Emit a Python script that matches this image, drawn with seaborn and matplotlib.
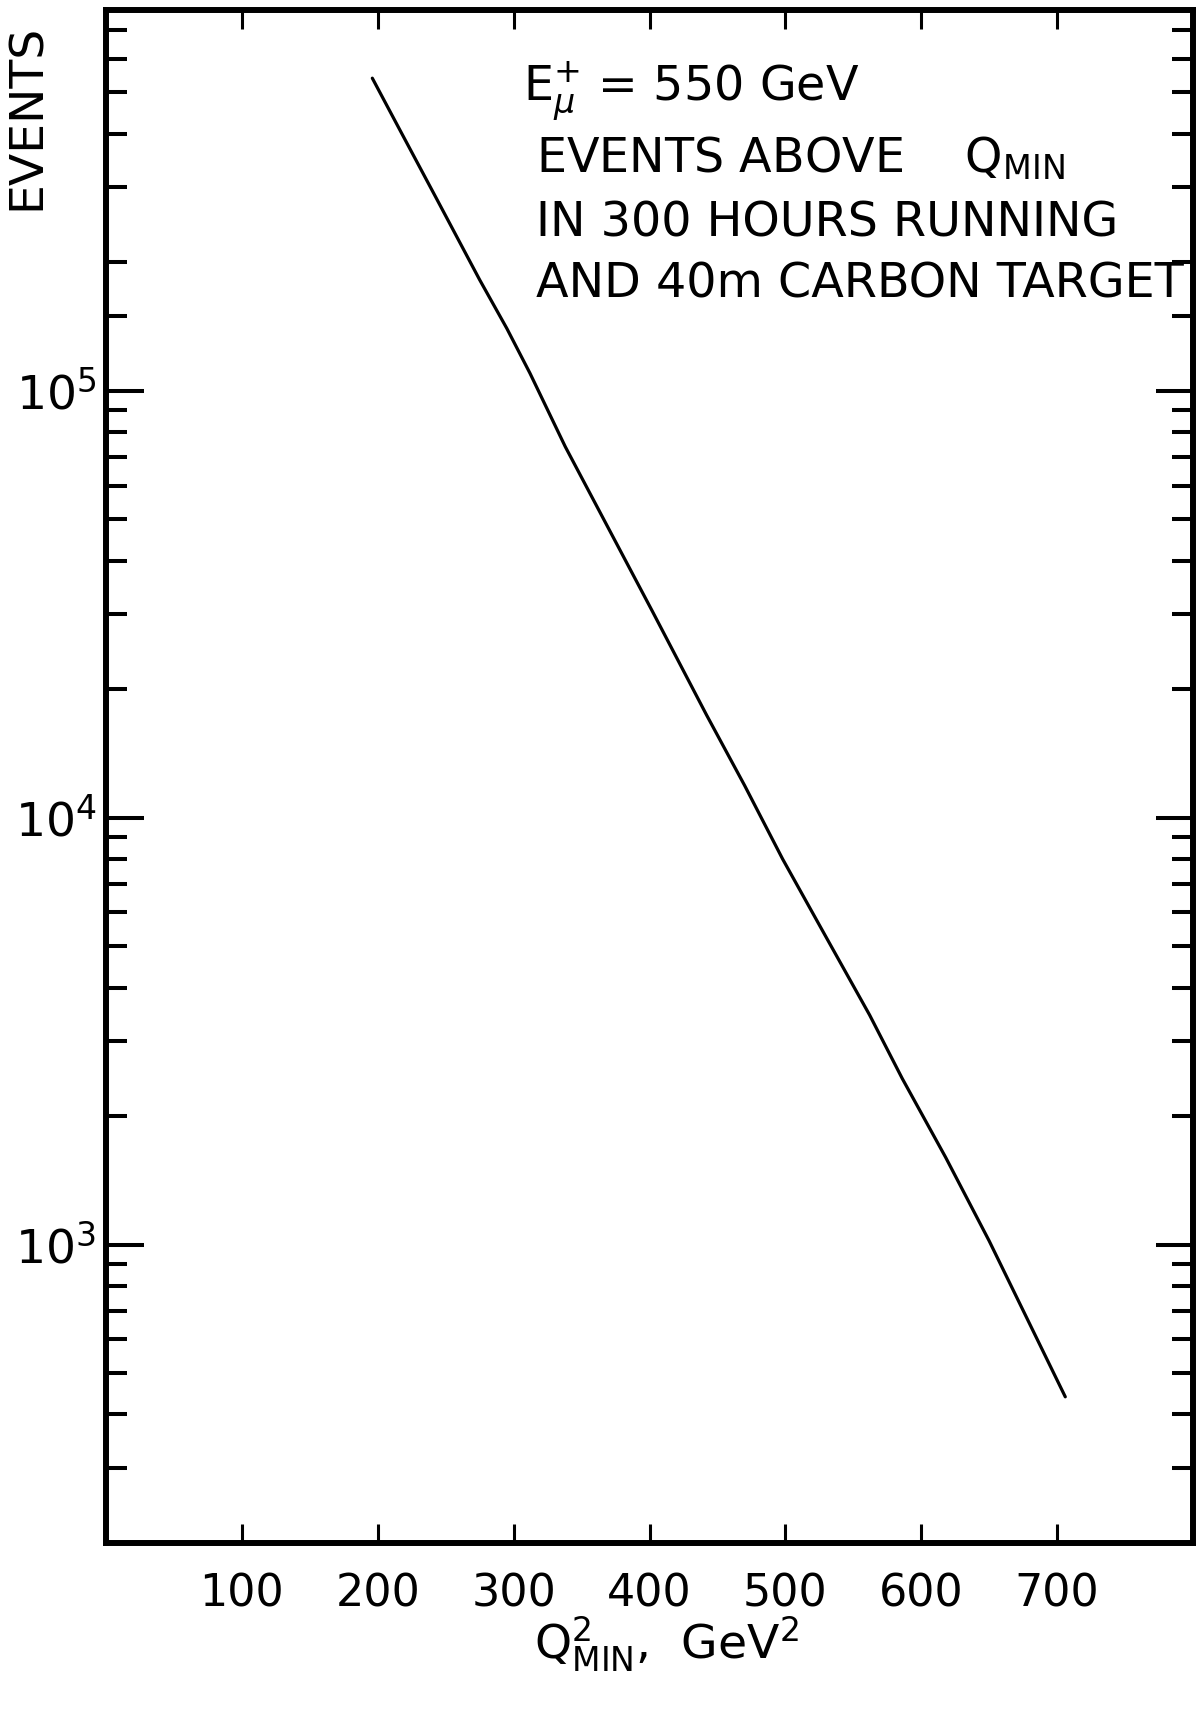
import matplotlib
matplotlib.use("Agg")
import matplotlib.pyplot as plt
import seaborn as sns
import pandas as pd

# Integrated event count above Q^2_min
q2_min = [196, 216, 243, 275, 295, 312, 338, 402, 442, 470, 498,
          530, 562, 586, 618, 650, 706]
events = [5.4e5, 4.1e5, 2.83e5, 1.82e5, 1.40e5, 1.10e5, 7.4e4,
          3.05e4, 1.74e4, 1.19e4, 8.0e3, 5.25e3, 3.45e3, 2.45e3, 1.60e3,
          1.02e3, 4.4e2]

x_ticks = [100, 200, 300, 400, 500, 600, 700]
x_tick_labels = ["100", "200", "300", "400", "500", "600", "700"]
y_major = [1e3, 1e4, 1e5]
y_major_labels = [r"$\mathregular{10^{3}}$", r"$\mathregular{10^{4}}$",
                  r"$\mathregular{10^{5}}$"]
y_minor = [300, 400, 500, 600, 700, 800, 900,
           2e3, 3e3, 4e3, 5e3, 6e3, 7e3, 8e3, 9e3,
           2e4, 3e4, 4e4, 5e4, 6e4, 7e4, 8e4, 9e4,
           1.5e5, 2e5, 3e5, 4e5, 5e5, 6e5, 7e5]

annotation = [
    r"E$^{+}_{\mu}$ = 550 GeV",
    r"EVENTS ABOVE    Q$_{\mathregular{MIN}}$",
    "IN 300 HOURS RUNNING",
    "AND 40m CARBON TARGET",
]

sns.set_theme(style="ticks")
plt.rcParams["font.family"] = ["DejaVu Sans"]
plt.rcParams["mathtext.fontset"] = "dejavusans"
for key in ("text.color", "axes.labelcolor", "xtick.color", "ytick.color",
            "axes.edgecolor"):
    plt.rcParams[key] = "black"

W, H = 1203, 1709
fig = plt.figure(figsize=(W / 100, H / 100), dpi=100)
fig.patch.set_facecolor("white")
ax = fig.add_axes([106 / W, 166 / H, 1087 / W, 1533 / H])
ax.set_facecolor("white")

df = pd.DataFrame({"q2": q2_min, "events": events})
sns.lineplot(data=df, x="q2", y="events", ax=ax, color="black",
             linewidth=2.3, sort=False)
ax.lines[0].set_solid_joinstyle("round")

ax.set_yscale("log")
ax.set_xlim(0, 800)
ax.set_ylim(200, 7.8e5)

ax.set_xticks(x_ticks, x_tick_labels, fontsize=32, color="black")
ax.set_yticks(y_major, y_major_labels, fontsize=34, color="black")
ax.set_yticks(y_minor, minor=True)
ax.set_yticklabels([], minor=True)
ax.set_xlabel("")
ax.set_ylabel("")

for s in ax.spines.values():
    s.set_linewidth(4.3)
    s.set_color("black")
    s.set_visible(True)

ax.tick_params(axis="x", which="major", direction="in", top=True,
               bottom=True, length=14, width=2.2, pad=21, colors="black")
ax.tick_params(axis="y", which="major", direction="in", left=True,
               right=True, length=27, width=2.9, pad=7, colors="black")
ax.tick_params(axis="y", which="minor", direction="in", left=True,
               right=True, length=15, width=2.9, colors="black")
ax.grid(False)

# Run conditions
baselines = [0.9406, 0.8943, 0.8522, 0.8125]
lefts = [0.3836, 0.3956, 0.3956, 0.3956]
for txt, xb, yb in zip(annotation, lefts, baselines):
    ax.text(xb, yb, txt, transform=ax.transAxes, ha="left", va="baseline",
            fontsize=34.3, color="black")

fig.text(27 / W, 1 - 117 / H, "EVENTS", rotation=90, ha="center",
         va="center", fontsize=34, color="black")
fig.text(667 / W, (H - 1659) / H,
         r"$\mathregular{Q^{2}_{MIN}}$,  GeV$^{\mathregular{2}}$",
         ha="center", va="baseline", fontsize=34, color="black")

fig.savefig("out.png", dpi=100, facecolor="white")
